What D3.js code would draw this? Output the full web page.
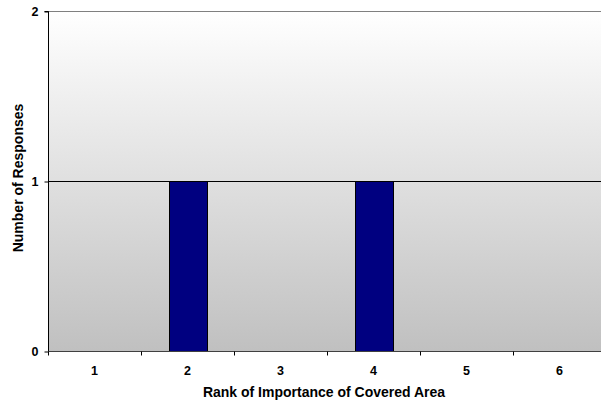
<!DOCTYPE html>
<html><head><meta charset="utf-8">
<script src="https://cdn.jsdelivr.net/npm/d3@7"></script>
<style>body{margin:0;background:#fff}svg{display:block}</style>
</head><body>
<svg id="c" width="601" height="407"></svg>
<script>
const categories = ["1","2","3","4","5","6"];
const values = [0,1,0,1,0,0];
const yTicks = [0,1,2];

(function(){
const svg = d3.select("#c");
const pL = 48, pT = 11, pB = 351, pR = 606;
const FONT = "Liberation Sans, Arial, sans-serif";
const x = d3.scaleBand().domain(categories).range([pL, pR]).paddingInner(0).paddingOuter(0);
const y = d3.scaleLinear().domain([0,2]).range([pB, pT]);

const defs = svg.append("defs");
const g = defs.append("linearGradient").attr("id","bg").attr("x1",0).attr("y1",0).attr("x2",0).attr("y2",1);
g.append("stop").attr("offset","0%").attr("stop-color","#ffffff");
g.append("stop").attr("offset","100%").attr("stop-color","#c0c0c0");

svg.append("rect").attr("x",pL).attr("y",pT).attr("width",pR-pL).attr("height",pB-pT).attr("fill","url(#bg)");

svg.append("line").attr("x1",pL).attr("x2",pR).attr("y1",y(2)+0.5).attr("y2",y(2)+0.5).attr("stroke","#808080");
svg.append("line").attr("x1",pL).attr("x2",pR).attr("y1",y(1)+0.5).attr("y2",y(1)+0.5).attr("stroke","#000");

const bw = 38;
svg.selectAll("rect.bar").data(categories.map((c,i)=>({c,v:values[i]})).filter(d=>d.v>0))
  .enter().append("rect").attr("class","bar")
  .attr("x",d=>Math.round(x(d.c)+x.bandwidth()/2-bw/2)+0.5)
  .attr("y",d=>y(d.v)+0.5)
  .attr("width",bw)
  .attr("height",d=>y(0)-y(d.v))
  .attr("fill","#000080").attr("stroke","#000").attr("stroke-width",1);

const ya = svg.append("g").attr("transform",`translate(${pL+0.5},0.5)`)
  .call(d3.axisLeft(y).tickValues(yTicks).tickFormat(d3.format("d")).tickSize(4).tickPadding(6));
ya.select(".domain").attr("stroke","#000").attr("d",`M-4,${pT}H0V${pB}`);
ya.selectAll("text").attr("font-family",FONT).attr("font-weight","bold").attr("font-size","12.5px").attr("fill","#000");
ya.selectAll(".tick line").attr("stroke","#000");

const xa = svg.append("g").attr("transform",`translate(0,${pB+0.5})`);
xa.append("line").attr("x1",pL).attr("x2",pR).attr("y1",0).attr("y2",0).attr("stroke","#404040");
const bounds = categories.map(c=>x(c)).concat([pR]);
xa.selectAll("line.tk").data(bounds).enter().append("line").attr("class","tk")
  .attr("x1",d=>Math.round(d)+0.5).attr("x2",d=>Math.round(d)+0.5).attr("y1",0).attr("y2",4).attr("stroke","#000");
xa.selectAll("text").data(categories).enter().append("text")
  .attr("x",d=>x(d)+x.bandwidth()/2).attr("y",23)
  .attr("text-anchor","middle")
  .attr("font-family",FONT).attr("font-weight","bold").attr("font-size","12.5px")
  .text(d=>d);

svg.append("text").attr("x",324).attr("y",397).attr("text-anchor","middle")
  .attr("font-family",FONT).attr("font-weight","bold").attr("font-size","14px")
  .text("Rank of Importance of Covered Area");
svg.append("text").attr("transform",`translate(22.5,178) rotate(-90)`).attr("text-anchor","middle")
  .attr("font-family",FONT).attr("font-weight","bold").attr("font-size","14px")
  .text("Number of Responses");
})();
</script>
</body></html>
